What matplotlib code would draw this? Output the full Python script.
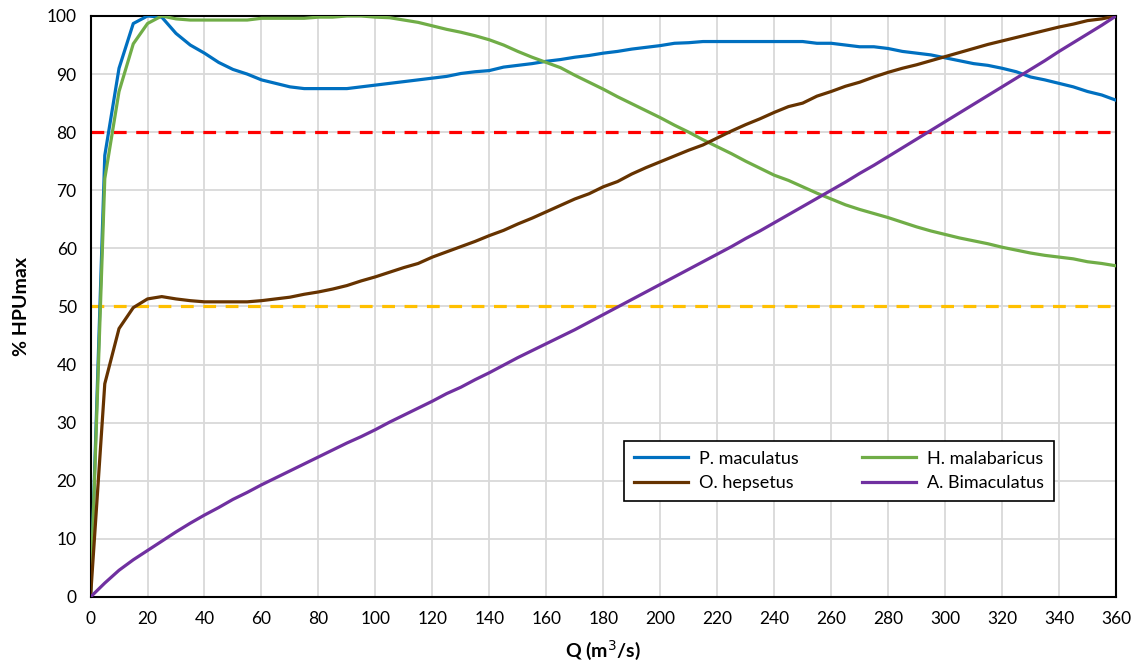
import numpy as np
import matplotlib.pyplot as plt

plt.rcParams['font.family'] = ['Lato', 'DejaVu Sans']

# discharge steps (m3/s)
q = np.arange(0, 365, 5)

p_maculatus = [0, 76, 91, 98.7, 100, 99.8, 97, 95, 93.6, 92, 90.8, 90.0, 89.0, 88.4, 87.8, 87.5,
               87.5, 87.5, 87.5, 87.8, 88.1, 88.4, 88.7, 89.0, 89.3, 89.6, 90.1, 90.4, 90.6, 91.2,
               91.5, 91.8, 92.2, 92.5, 92.9, 93.2, 93.6, 93.9, 94.3, 94.6, 94.9, 95.3, 95.4, 95.6,
               95.6, 95.6, 95.6, 95.6, 95.6, 95.6, 95.6, 95.3, 95.3, 95.0, 94.7, 94.7, 94.4, 93.9,
               93.6, 93.3, 92.8, 92.3, 91.8, 91.5, 91.0, 90.4, 89.5, 89.0, 88.4, 87.8, 87.0, 86.4, 85.5]
h_malabaricus = [0, 72, 87, 95.2, 98.7, 100, 99.5, 99.3, 99.3, 99.3, 99.3, 99.3, 99.6, 99.6, 99.6,
                 99.6, 99.8, 99.8, 100, 100, 99.8, 99.7, 99.3, 98.9, 98.3, 97.7, 97.2, 96.6, 95.9,
                 95.0, 93.9, 92.9, 92.0, 91.1, 89.8, 88.6, 87.4, 86.1, 84.9, 83.7, 82.5, 81.2, 80.0,
                 78.7, 77.5, 76.3, 75.0, 73.8, 72.6, 71.7, 70.6, 69.5, 68.5, 67.5, 66.7, 66.0, 65.3,
                 64.5, 63.7, 63.0, 62.4, 61.8, 61.3, 60.8, 60.2, 59.7, 59.2, 58.8, 58.5, 58.2, 57.7,
                 57.4, 57.0]
o_hepsetus = [0, 36.7, 46.2, 49.8, 51.3, 51.7, 51.3, 51.0, 50.8, 50.8, 50.8, 50.8, 51.0, 51.3, 51.6,
              52.1, 52.5, 53.0, 53.6, 54.4, 55.1, 55.9, 56.7, 57.4, 58.5, 59.4, 60.3, 61.2, 62.2,
              63.1, 64.2, 65.2, 66.3, 67.4, 68.5, 69.4, 70.6, 71.5, 72.8, 73.9, 74.9, 75.9, 76.9,
              77.8, 79.0, 80.2, 81.3, 82.3, 83.4, 84.4, 85.0, 86.2, 87.0, 87.9, 88.6, 89.5, 90.3,
              91.0, 91.6, 92.3, 93.0, 93.7, 94.4, 95.1, 95.7, 96.3, 96.9, 97.5, 98.1, 98.6, 99.2,
              99.5, 100]
a_bimaculatus = [0, 2.4, 4.6, 6.4, 8.0, 9.6, 11.2, 12.7, 14.1, 15.4, 16.8, 18.0, 19.3, 20.5, 21.7,
                 22.9, 24.1, 25.3, 26.5, 27.6, 28.8, 30.1, 31.3, 32.5, 33.7, 35.0, 36.1, 37.4, 38.6,
                 39.9, 41.2, 42.4, 43.6, 44.8, 46.0, 47.3, 48.6, 49.9, 51.2, 52.5, 53.8, 55.1, 56.4,
                 57.7, 59.0, 60.3, 61.7, 63.0, 64.4, 65.8, 67.2, 68.6, 70.0, 71.4, 72.9, 74.3, 75.8,
                 77.3, 78.8, 80.3, 81.8, 83.3, 84.8, 86.3, 87.8, 89.3, 90.8, 92.3, 93.9, 95.4, 96.9,
                 98.4, 100]

# threshold levels
lim_high = 80
lim_low = 50

fig = plt.figure(figsize=(11.36, 6.71), dpi=100)
ax = fig.add_axes([0.0797, 0.1103, 0.9027, 0.8659])

ax.axhline(lim_high, color="#FF0000", lw=2.3, ls=(0, (4, 3)), zorder=2)
ax.axhline(lim_low, color="#FFC000", lw=2.3, ls=(0, (4, 3)), zorder=2)

l1, = ax.plot(q, p_maculatus, color="#0070C0", lw=2.3, label="P. maculatus", zorder=3)
l2, = ax.plot(q, h_malabaricus, color="#70AD47", lw=2.3, label="H. malabaricus", zorder=3)
l3, = ax.plot(q, o_hepsetus, color="#663300", lw=2.3, label="O. hepsetus", zorder=3)
l4, = ax.plot(q, a_bimaculatus, color="#7030A0", lw=2.3, label="A. Bimaculatus", zorder=3)

ax.set_xlim(0, 360)
ax.set_ylim(0, 100)
ax.set_xticks(np.arange(0, 361, 20))
ax.set_yticks(np.arange(0, 101, 10))
ax.grid(True, color="#D9D9D9", lw=1.3)
ax.set_axisbelow(True)
ax.tick_params(length=0, labelsize=12.5, pad=10)
for s in ax.spines.values():
    s.set_color("black")
    s.set_linewidth(1.5)

ax.set_xlabel("Q (m$^3$/s)", fontsize=14, fontweight="bold", labelpad=8)
ax.set_ylabel("% HPUmax", fontsize=14, fontweight="bold", labelpad=12)

leg = ax.legend([l1, l3, l2, l4], ["P. maculatus", "O. hepsetus", "H. malabaricus", "A. Bimaculatus"],
                ncol=2, loc="lower left", bbox_to_anchor=(0.511, 0.150, 0.437, 0.112), mode="expand",
                fontsize=13, frameon=True, fancybox=False, edgecolor="black", framealpha=1,
                handlelength=3.0, handletextpad=0.6, columnspacing=2.0, borderpad=0.55,
                labelspacing=0.45)
leg.get_frame().set_linewidth(1.2)

fig.savefig("out.png", dpi=100)
